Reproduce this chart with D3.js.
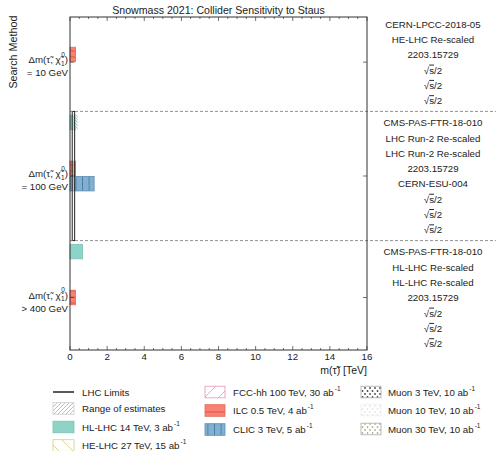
<!DOCTYPE html>
<html><head><meta charset="utf-8">
<script src="https://cdn.jsdelivr.net/npm/d3@7"></script>
<style>
body{margin:0;background:#fff;}
text{font-family:"Liberation Sans",Arial,sans-serif;fill:#222;}
</style></head>
<body>
<svg id="c" width="496" height="451"></svg>
<script>
// ---------------- data ----------------
const categories = ["= 10 GeV", "= 100 GeV", "> 400 GeV"];
const experiments = ["HL-LHC","HE-LHC","FCC-hh","ILC","CLIC","Muon3","Muon10","Muon30"];
const rowsTop = ["HL-LHC","HE-LHC","ILC","Muon3","Muon10","Muon30"];
const rowsMid = ["HL-LHC","HE-LHC","FCC-hh","ILC","CLIC","Muon3","Muon10","Muon30"];
const rowsBot = ["HL-LHC","HE-LHC","FCC-hh","ILC","Muon3","Muon10","Muon30"];
const refsTop = ["CERN-LPCC-2018-05","HE-LHC Re-scaled","2203.15729","√s/2","√s/2","√s/2"];
const refsMid = ["CMS-PAS-FTR-18-010","LHC Run-2 Re-scaled","LHC Run-2 Re-scaled","2203.15729","CERN-ESU-004","√s/2","√s/2","√s/2"];
const refsBot = ["CMS-PAS-FTR-18-010","HL-LHC Re-scaled","HL-LHC Re-scaled","2203.15729","√s/2","√s/2","√s/2"];
// sensitivity reach in TeV (null = no visible bar)
const valuesTop = [null, null, 0.3, null, null, null];
const valuesMid = [0.28, null, null, 0.3, 1.3, null, null, null];
const valuesBot = [0.68, null, null, 0.3, null, null, null];
// range of estimates (middle group, HL-LHC)
const rangeMidHL = [0.28, 0.41];
// LHC limits (middle group)
const lhcLimitMid = [0.12, 0.25];
const xTicks = [0,2,4,6,8,10,12,14,16];
const legendLabels = ["LHC Limits","Range of estimates","HL-LHC 14 TeV, 3 ab","HE-LHC 27 TeV, 15 ab",
  "FCC-hh 100 TeV, 30 ab","ILC 0.5 TeV, 4 ab","CLIC 3 TeV, 5 ab","Muon 3 TeV, 10 ab","Muon 10 TeV, 10 ab","Muon 30 TeV, 10 ab"];

// ---------------- layout ----------------
const svg = d3.select("#c");
const L = 70, R = 367, T = 17, B = 350;
const x = d3.scaleLinear().domain([0,16]).range([L,R]);
const groups = [
  {rows: rowsTop, refs: refsTop, vals: valuesTop},
  {rows: rowsMid, refs: refsMid, vals: valuesMid},
  {rows: rowsBot, refs: refsBot, vals: valuesBot}
];
const gap = 1.44;
let cur = 0;
groups.forEach(g => { g.off = cur; cur += g.rows.length - 1 + gap; });
const lastPos = groups[2].off + groups[2].rows.length - 1;
const y = d3.scaleLinear().domain([-0.45, lastPos + 0.43]).range([T,B]);
const bh = (y(1)-y(0))*0.95;

// ---------------- patterns ----------------
const defs = svg.append("defs");
function linePattern(id, w, h, stroke, path, sw, bg){
  const p = defs.append("pattern").attr("id",id).attr("patternUnits","userSpaceOnUse").attr("width",w).attr("height",h);
  if (bg) p.append("rect").attr("width",w).attr("height",h).attr("fill",bg);
  p.append("path").attr("d",path).attr("stroke",stroke).attr("stroke-width",sw).attr("fill","none");
}
linePattern("pRange",4,4,"#b0b0b0","M-1,5 L5,-1 M-1,1 L1,-1 M3,5 L5,3",0.8,"#fff");
linePattern("pHLr",3,3,"#79c2b2","M-1,-1 L4,4 M-1,2 L1,4 M2,-1 L4,1",0.8,"#e6f5f1");
linePattern("pHE",14,14,"#cccc70","M0,0 L14,14 M-1,13 L1,15 M13,-1 L15,1",0.8,"#fff");
linePattern("pFCC",14,14,"#e892bc","M0,14 L14,0 M-1,1 L1,-1 M13,15 L15,13",0.8,"#fff");
linePattern("pILC",8,6,"#c9544a","M0,3 L8,3",0.9,"#fb8072");
linePattern("pILCleg",8,12,"#c9544a","M0,4 L8,4",0.9,"#fb8072");
linePattern("pCLIC",6.6,8,"#4b7aa0","M3.3,0 L3.3,8",0.9,"#80b1d3");
function dotPattern(id,w,h,fill,dots,r){
  const p = defs.append("pattern").attr("id",id).attr("patternUnits","userSpaceOnUse").attr("width",w).attr("height",h);
  p.append("rect").attr("width",w).attr("height",h).attr("fill","#fff");
  dots.forEach(d=>p.append("circle").attr("cx",d[0]).attr("cy",d[1]).attr("r",r).attr("fill",fill));
}
dotPattern("pMu3",5,6,"#444",[[2.5,1],[0,4],[5,4]],0.9);
dotPattern("pMu10",5,6,"#e2d6cc",[[2.5,1],[0,4],[5,4]],0.8);
dotPattern("pMu30",5,6,"#7a9a50",[[2.5,1],[0,4],[5,4]],0.8);

const styles = {
  "HL-LHC": {fill:"#8dd3c7", stroke:"#7cc2b5"},
  "HE-LHC": {fill:"url(#pHE)", stroke:"#d0d080"},
  "FCC-hh": {fill:"url(#pFCC)", stroke:"#e892bc"},
  "ILC":    {fill:"url(#pILC)", stroke:"#e0695c"},
  "CLIC":   {fill:"url(#pCLIC)", stroke:"#5d8db2"},
  "Muon3":  {fill:"url(#pMu3)", stroke:"#aaa"},
  "Muon10": {fill:"url(#pMu10)", stroke:"#eee"},
  "Muon30": {fill:"url(#pMu30)", stroke:"#aaa"}
};

// ---------------- bars ----------------
const bars = [];
groups.forEach(g => g.rows.forEach((r,i) => { if (g.vals[i] != null) bars.push({exp:r, pos:g.off+i, v:g.vals[i]}); }));
svg.append("g").selectAll("rect").data(bars).join("rect")
  .attr("x", x(0)).attr("y", d => y(d.pos)-bh/2)
  .attr("width", d => x(d.v)-x(0)).attr("height", bh)
  .attr("fill", d => styles[d.exp].fill).attr("stroke", d => styles[d.exp].stroke).attr("stroke-width",0.8);

// range of estimates on HL-LHC (middle)
const hlPos = groups[1].off + rowsMid.indexOf("HL-LHC");
svg.append("rect").attr("x",x(rangeMidHL[0])).attr("y",y(hlPos)-bh/2)
  .attr("width",x(rangeMidHL[1])-x(rangeMidHL[0])).attr("height",bh)
  .attr("fill","url(#pHLr)").attr("stroke","none");

// LHC limits (middle group)
const midTop = (groups[0].off + rowsTop.length - 1 + groups[1].off)/2;
const midBot = (groups[1].off + rowsMid.length - 1 + groups[2].off)/2;
svg.append("rect").attr("x",x(lhcLimitMid[0])).attr("y",y(midTop))
  .attr("width",x(lhcLimitMid[1])-x(lhcLimitMid[0])).attr("height",y(midBot)-y(midTop))
  .attr("fill","#fff").attr("fill-opacity",0.35).attr("stroke","#222").attr("stroke-width",1);

// dashed separators
[midTop, midBot].forEach(p => svg.append("line").attr("x1",L).attr("x2",496)
  .attr("y1",y(p)).attr("y2",y(p)).attr("stroke","#777").attr("stroke-width",0.8).attr("stroke-dasharray","3,2"));

// ---------------- axes ----------------
const ax = svg.append("g");
ax.append("rect").attr("x",L).attr("y",T).attr("width",R-L).attr("height",B-T)
  .attr("fill","none").attr("stroke","#333").attr("stroke-width",1);
const minor = d3.range(0,16.01,0.5);
minor.forEach(v => {
  const major = xTicks.includes(v);
  const len = major ? 4 : 2;
  ax.append("line").attr("x1",x(v)).attr("x2",x(v)).attr("y1",B).attr("y2",B-len).attr("stroke","#333").attr("stroke-width",0.7);
  ax.append("line").attr("x1",x(v)).attr("x2",x(v)).attr("y1",T).attr("y2",T+len).attr("stroke","#333").attr("stroke-width",0.7);
});
ax.selectAll("text.xt").data(xTicks).join("text").attr("class","xt")
  .attr("x",d=>x(d)).attr("y",B+10).attr("text-anchor","middle").attr("font-size",9.7).text(d=>d);

// group ticks
const gCenters = groups.map(g => g.off + (g.rows.length-1)/2);
gCenters.forEach(c => {
  ax.append("line").attr("x1",L).attr("x2",L+4).attr("y1",y(c)).attr("y2",y(c)).attr("stroke","#333").attr("stroke-width",0.7);
  ax.append("line").attr("x1",R).attr("x2",R-4).attr("y1",y(c)).attr("y2",y(c)).attr("stroke","#333").attr("stroke-width",0.7);
});

// left category labels
gCenters.forEach((c,i) => {
  const yy = y(c);
  const t = svg.append("text").attr("x",68).attr("y",yy+1).attr("text-anchor","end").attr("font-size",9.7);
  t.append("tspan").text("Δm(τ̃, χ̃");
  t.append("tspan").attr("font-size",6.5).attr("dx",0.5).attr("dy",2.5).text("1");
  t.append("tspan").attr("font-size",6.5).attr("dx",-3.6).attr("dy",-9).text("0");
  t.append("tspan").attr("dy",6.5).text(")");
  svg.append("text").attr("x",68).attr("y",yy+14).attr("text-anchor","end").attr("font-size",9.7).text(categories[i]);
});

// right reference labels
groups.forEach(g => g.refs.forEach((r,i) => {
  const t = svg.append("text").attr("x",433).attr("y",y(g.off+i)+3.8).attr("text-anchor","middle").attr("font-size",9.7);
  if (r === "√s/2") {
    t.append("tspan").text("√");
    t.append("tspan").style("text-decoration","overline").text("s");
    t.append("tspan").text("/2");
  } else t.text(r);
}));

// title & axis labels
svg.append("text").attr("x",(L+R)/2).attr("y",13.8).attr("text-anchor","middle").attr("font-size",10.6)
  .text("Snowmass 2021: Collider Sensitivity to Staus");
svg.append("text").attr("transform","translate(17,52) rotate(-90)").attr("text-anchor","middle").attr("font-size",10.8)
  .text("Search Method");
svg.append("text").attr("x",R).attr("y",374).attr("text-anchor","end").attr("font-size",10.5).text("m(τ̃) [TeV]");

// ---------------- legend ----------------
const leg = [
  {col:0,row:392,kind:"line"},
  {col:0,row:408.5,fill:"url(#pRange)",stroke:"#ccc"},
  {col:0,row:427,fill:"#8dd3c7",stroke:"#7cc2b5"},
  {col:0,row:445.5,fill:"url(#pHE)",stroke:"#d0d080"},
  {col:1,row:392,fill:"url(#pFCC)",stroke:"#e892bc"},
  {col:1,row:410.5,fill:"url(#pILCleg)",stroke:"#e0695c"},
  {col:1,row:429.5,fill:"url(#pCLIC)",stroke:"#5d8db2"},
  {col:2,row:392,fill:"url(#pMu3)",stroke:"#aaa"},
  {col:2,row:410,fill:"url(#pMu10)",stroke:"#eee"},
  {col:2,row:429,fill:"url(#pMu30)",stroke:"#aaa"}
];
const colX = [53, 205, 361], colW = [21, 20, 20], textX = [82, 233, 388];
leg.forEach((d,i) => {
  const x0 = colX[d.col], w = colW[d.col];
  if (d.kind === "line") {
    svg.append("line").attr("x1",x0).attr("x2",x0+w).attr("y1",d.row).attr("y2",d.row).attr("stroke","#222").attr("stroke-width",1.5);
  } else {
    svg.append("rect").attr("x",x0).attr("y",d.row-5.8).attr("width",w).attr("height",11.6)
      .attr("fill",d.fill).attr("stroke",d.stroke).attr("stroke-width",0.8);
  }
  const t = svg.append("text").attr("x",textX[d.col]).attr("y",d.row+3.6).attr("font-size",9.7);
  t.append("tspan").text(legendLabels[i]);
  if (i >= 2) t.append("tspan").attr("font-size",6.5).attr("dx",1).attr("dy",-5).text("-1");
});
</script>
</body></html>
